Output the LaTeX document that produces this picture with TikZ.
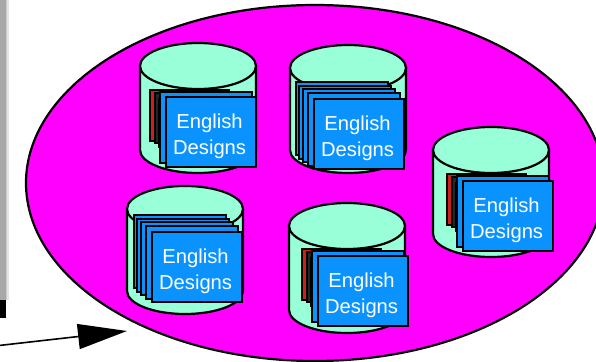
\documentclass[tikz,border=0pt]{standalone}
\usepackage{fontspec}
\setmainfont{Liberation Sans}
\usetikzlibrary{arrows.meta}
\definecolor{cylfill}{HTML}{99FFD9}
\definecolor{cardblue}{HTML}{0A93FF}
\definecolor{cardred}{HTML}{CC2020}
\definecolor{loopfill}{RGB}{255,0,255}
\tikzset{
  outline/.style={draw=black,line width=2.2pt},
  cylbody/.style={outline,fill=cylfill},
  card/.style={outline,fill=cardblue},
  cardbox/.style={card,anchor=north west,minimum width=90pt,minimum height=70pt,inner sep=0pt},
  cardtext/.style={text=white,align=center,inner sep=0pt,font=\fontsize{20.2}{26.5}\selectfont},
}
% #1 left, #2 top, #3 total height
\newcommand{\drumshape}[3]{%
  \begin{scope}[shift={(#1,#2)}]
    \path[cylbody] (0,23) -- (0,#3-23) arc[start angle=180,end angle=360,x radius=58,y radius=-23] -- (116,23) -- cycle;
    \path[cylbody] (58,23) ellipse[x radius=58,y radius=23];
  \end{scope}}
% #1 name, #2 x, #3 y
\newcommand{\frontcard}[3]{%
  \node[cardbox] (#1) at (#2,#3) {};
  \node[cardtext] (#1t) at ([xshift=-1.5pt,yshift=-4pt]#1.center) {English\\Designs};}
\newcommand{\mixedstack}[2]{%
  \begin{scope}[shift={(#1,#2)}]
    \path[draw=black,line width=1.3pt,fill=cardred] (-15,-6) rectangle ++(79,51);
    \path[draw=black,line width=1.3pt,fill=black!85] (-10,-3) rectangle ++(40,50);
    \path[draw=black,line width=0.8pt,fill=green] (-7,2) rectangle ++(30,49);
    \path[card] (-5,-4) rectangle ++(92,71);
  \end{scope}}
\newcommand{\bluestack}[2]{%
  \begin{scope}[shift={(#1,#2)}]
    \path[card] (-17,-16) rectangle ++(92,73);
    \path[card] (-14,-12) rectangle ++(92,73);
    \path[card] (-10,-9) rectangle ++(92,73);
    \path[card] (-5,-5) rectangle ++(92,73);
  \end{scope}}
\begin{document}
\begin{tikzpicture}[x=1pt,y=-1pt]
  \useasboundingbox (0,0) rectangle (596,361);
  \clip (0,0) rectangle (596,361);
  % left bar
  \fill[black] (0,300) rectangle (6,318);
  \fill[black!34] (0,0) rectangle (5.5,300);
  \fill[black!20] (5.5,0) rectangle (8,300);
  \fill[black!10] (7,0) rectangle (8.5,300);
  % big ellipse
  \path[outline,fill=loopfill] (315,183) ellipse[x radius=289,y radius=178];
  % cylinders
  \drumshape{140}{43}{130}
  \mixedstack{165}{96}
  \frontcard{a}{165}{96}
  \drumshape{290}{45}{128}
  \bluestack{313}{98}
  \frontcard{b}{313}{98}
  \drumshape{433}{127}{130}
  \mixedstack{462}{180}
  \frontcard{c}{462}{180}
  \drumshape{127}{186}{128}
  \bluestack{151}{231}
  \frontcard{d}{151}{231}
  \drumshape{289}{203}{130}
  \mixedstack{317}{255}
  \frontcard{e}{317}{255}
  % arrow
  \coordinate (from) at (-1,345.5);
  \coordinate (to) at (127,331);
  \draw[line width=1.6pt,-{Triangle[length=49pt,width=25pt]}] (from) -- (to);
\end{tikzpicture}
\end{document}
